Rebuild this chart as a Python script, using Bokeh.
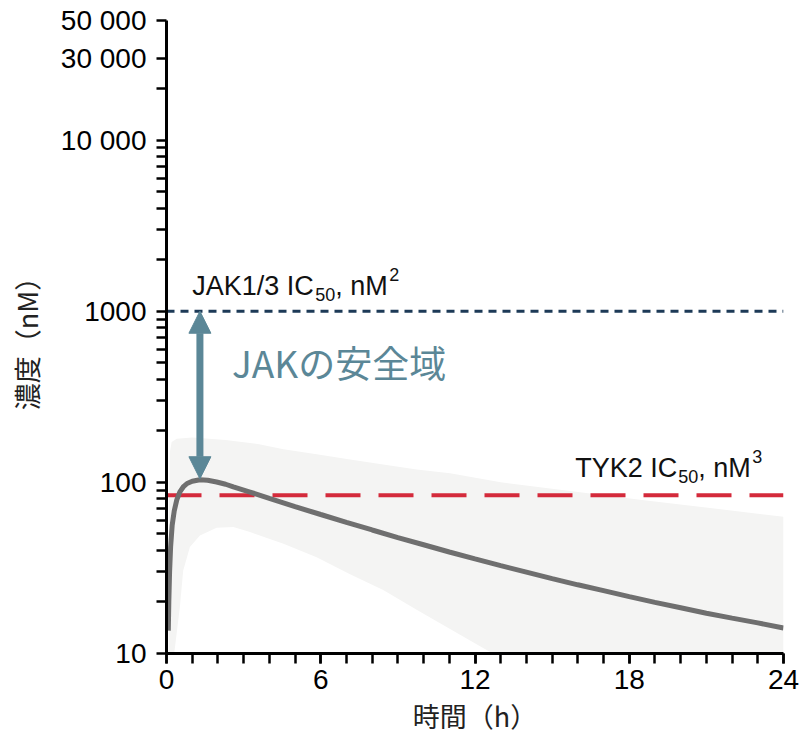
from bokeh.plotting import figure
from bokeh.models import Range1d, FixedTicker, Span, Arrow, NormalHead, Label
from bokeh.embed import file_html
from bokeh.resources import INLINE

# Mean plasma concentration profile (time in h, concentration in nM)
time_h = [0.07, 0.09, 0.12, 0.16, 0.22, 0.3, 0.4, 0.52, 0.65, 0.8, 1.0, 1.3, 1.6,
          1.95, 2.3, 2.6, 3.25, 4.0, 5.0, 6.0, 7.0, 8.0, 9.0, 10.0, 11.0, 12.0,
          13.0, 14.0, 15.0, 16.0, 17.0, 18.0, 19.0, 20.0, 21.0, 22.0, 23.0, 24.0]
conc_nM = [13.6, 20, 30, 42, 56, 68, 79, 88, 94, 98.5, 101.5, 103.5, 102.8,
           100.5, 97.5, 94, 87.8, 80.6, 72.2, 64.9, 58.4, 52.7, 47.6, 43.2, 39.2, 35.7,
           32.6, 29.9, 27.4, 25.2, 23.3, 21.5, 19.9, 18.5, 17.2, 16.1, 15.1, 14.1]

# Variability band around the profile
band_hi_t = [0.08, 0.1, 0.13, 0.2, 0.4, 1.0, 2.3, 3.6, 4.55, 5.84, 7.14, 8.43,
             9.73, 11.03, 13.0, 18.5, 24.0]
band_hi = [10, 80, 150, 172, 180, 183, 177, 167, 156, 146, 136, 127,
           119, 113, 100, 79, 63]
band_lo_t = [0.08, 0.3, 0.52, 0.65, 0.91, 1.3, 1.95, 2.6, 3.25, 4.55, 5.84,
             7.14, 8.43, 9.73, 11.03, 12.3, 12.7, 24.0]
band_lo = [10, 10, 18.7, 30.5, 41.9, 49, 54.3, 54.8, 51.2, 43.8, 36.5,
           29, 23.5, 18, 13.9, 10.8, 10, 10]

# Reference IC50 levels (nM)
jak13_ic50 = 1000
tyk2_ic50 = 84
peak_time = 1.3
peak_conc = 105

y_ticks = [10, 100, 1000, 10000, 30000, 50000]
y_tick_labels = ["10", "100", "1000", "10 000", "30 000", "50 000"]
y_minor = ([k * 10 for k in range(2, 10)] + [k * 100 for k in range(2, 10)]
           + [k * 1000 for k in range(2, 10)] + [20000])
x_ticks = [0, 6, 12, 18, 24]
x_minor = list(range(0, 25))

SANS = "Liberation Sans"
CJK = "Noto Sans CJK JP"
STEEL = "#5b8797"

p = figure(width=802, height=739, x_range=Range1d(0, 24), y_range=Range1d(10, 50000),
           y_axis_type="log", output_backend="svg", toolbar_location=None,
           min_border_left=166, min_border_right=19, min_border_top=20,
           min_border_bottom=86)
p.outline_line_color = None
p.xgrid.visible = False
p.ygrid.visible = False
p.background_fill_color = "white"
p.border_fill_color = "white"

# band polygon: upper edge forward, lower edge backward
band_x = band_hi_t + band_lo_t[::-1]
band_y = band_hi + band_lo[::-1]
p.patch(band_x, band_y, fill_color="#f4f4f3", line_color=None, level="image")

jak_line = Span(location=jak13_ic50, dimension="width", line_color="#1d3a57",
                line_width=3, line_dash="8 6", level="underlay")
tyk_line = Span(location=tyk2_ic50, dimension="width", line_color="#d42a3b",
                line_width=4, line_dash="35 18", level="underlay")
p.add_layout(jak_line)
p.add_layout(tyk_line)

p.line(time_h, conc_nM, line_color="#6f6f6f", line_width=5)

arrow = Arrow(x_start=peak_time, y_start=peak_conc, x_end=peak_time, y_end=jak13_ic50,
              line_color=STEEL, line_width=7,
              start=NormalHead(size=22, fill_color=STEEL, line_color=STEEL, line_width=1),
              end=NormalHead(size=22, fill_color=STEEL, line_color=STEEL, line_width=1))
p.add_layout(arrow)

p.add_layout(Label(x=2.55, y=504, text="JAKの安全域", text_font=CJK,
                   text_font_size="37px", text_color=STEEL, text_baseline="alphabetic"))


def ic50_label(x, y, name, sup, x_off):
    """Draw '<name> IC50, nM<sup>' with a subscript and superscript."""
    main = "27px"
    small = "18px"
    parts = [
        (name + " IC", 0, 0, main),
        ("50", x_off + 1, -8, small),
        (", nM", x_off + 21, 0, main),
        (sup, x_off + 75, 12, small),
    ]
    for txt, dx, dy, size in parts:
        p.add_layout(Label(x=x, y=y, text=txt, x_offset=dx, y_offset=dy,
                           text_font=SANS, text_font_size=size, text_color="#111111",
                           text_baseline="alphabetic"))


ic50_label(1.0, 1400, "JAK1/3", "2", 122)
ic50_label(15.9, 121, "TYK2", "3", 102)

# axes
for ax in (p.xaxis[0], p.yaxis[0]):
    ax.axis_line_width = 3
    ax.axis_line_color = "black"
    ax.major_tick_line_width = 2.5
    ax.minor_tick_line_width = 2.5
    ax.major_tick_line_color = "black"
    ax.minor_tick_line_color = "black"
    ax.major_tick_in = 0
    ax.minor_tick_in = 0
    ax.major_tick_out = 10
    ax.minor_tick_out = 10
    ax.major_label_text_font = SANS
    ax.major_label_text_font_size = "28px"
    ax.major_label_text_color = "black"
    ax.axis_label_text_font = CJK
    ax.axis_label_text_font_size = "27px"
    ax.axis_label_text_font_style = "normal"
    ax.axis_label_text_color = "#222222"

p.yaxis.ticker = FixedTicker(ticks=y_ticks, minor_ticks=y_minor)
p.yaxis.major_label_overrides = {t: s for t, s in zip(y_ticks, y_tick_labels)}
p.yaxis.major_label_standoff = 10
p.yaxis.axis_label = "濃度（nM）"
p.yaxis.axis_label_standoff = 12

p.xaxis.ticker = FixedTicker(ticks=x_ticks, minor_ticks=x_minor)
p.xaxis.major_label_standoff = 6
p.xaxis.axis_label = "時間（h）"
p.xaxis.axis_label_standoff = 4

open("out.html", "w").write(file_html(p, INLINE))
